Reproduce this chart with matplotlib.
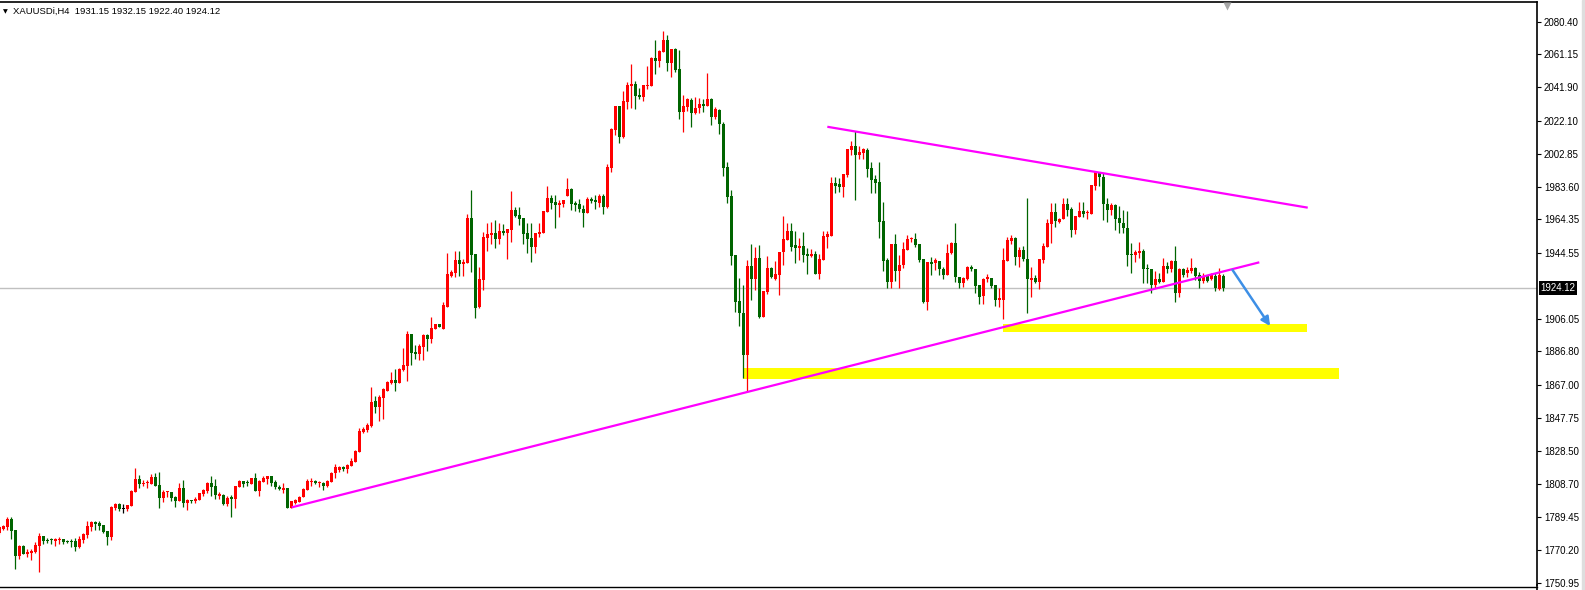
import matplotlib
matplotlib.use("Agg")
import matplotlib.pyplot as plt
import matplotlib.transforms as mtransforms
from matplotlib.lines import Line2D
import numpy as np

# XAUUSDi H4 candles (oldest -> newest)
opens = [
    1780.3, 1782.7, 1783.8, 1788.5, 1781.9, 1766.8, 1772.5, 1768.0, 1768.6, 1769.0,
    1772.7, 1778.4, 1776.2, 1776.2, 1775.6, 1775.8, 1776.6, 1775.4, 1775.4, 1775.4,
    1772.1, 1776.2, 1779.1, 1783.7, 1786.4, 1786.0, 1784.8, 1781.3, 1778.0, 1795.0,
    1797.0, 1794.5, 1794.4, 1796.2, 1804.2, 1811.8, 1809.1, 1809.3, 1809.1, 1813.0,
    1808.3, 1800.9, 1804.0, 1804.2, 1801.3, 1799.1, 1806.6, 1797.9, 1799.5, 1798.7,
    1799.7, 1803.2, 1805.0, 1809.5, 1807.7, 1802.1, 1802.6, 1797.0, 1801.1, 1800.3,
    1806.9, 1810.7, 1809.7, 1808.9, 1812.4, 1805.0, 1810.3, 1812.0, 1813.6, 1810.1,
    1806.9, 1805.6, 1806.6, 1795.0, 1797.6, 1798.5, 1801.1, 1805.4, 1810.1, 1810.7,
    1809.3, 1809.5, 1807.9, 1810.3, 1815.4, 1817.1, 1818.9, 1817.7, 1819.5, 1821.8,
    1827.9, 1839.6, 1840.8, 1843.0, 1857.9, 1854.1, 1859.4, 1863.5, 1868.0, 1870.0,
    1868.4, 1875.9, 1878.4, 1897.0, 1886.6, 1885.5, 1889.6, 1896.4, 1894.1, 1900.1,
    1902.9, 1899.7, 1913.1, 1931.3, 1933.0, 1940.5, 1938.1, 1938.7, 1965.3, 1944.2,
    1912.7, 1928.7, 1953.6, 1955.3, 1956.5, 1952.8, 1957.7, 1956.5, 1958.1, 1969.8,
    1967.1, 1965.3, 1956.5, 1953.6, 1948.3, 1955.7, 1956.3, 1968.8, 1977.1, 1974.5,
    1973.0, 1973.5, 1978.2, 1982.2, 1974.1, 1973.5, 1970.6, 1968.3, 1976.3, 1975.7,
    1974.1, 1978.0, 1971.8, 1994.7, 2017.0, 2030.9, 2012.5, 2033.4, 2042.8, 2043.8,
    2037.4, 2036.4, 2042.8, 2042.8, 2059.3, 2057.5, 2062.8, 2069.7, 2056.0, 2064.4,
    2052.6, 2027.6, 2030.1, 2034.4, 2027.0, 2029.5, 2032.1, 2031.1, 2035.0, 2024.6,
    2028.6, 2020.5, 1995.1, 1978.0, 1943.4, 1916.4, 1909.3, 1884.9, 1936.9, 1929.1,
    1941.8, 1907.2, 1921.9, 1936.0, 1929.5, 1931.6, 1945.0, 1952.2, 1957.5, 1949.3,
    1947.7, 1948.7, 1944.0, 1942.8, 1944.0, 1932.2, 1940.5, 1954.2, 1954.5, 1985.9,
    1985.1, 1983.5, 1990.4, 2005.1, 2007.4, 2002.1, 2003.1, 2005.1, 1994.3, 1988.0,
    1986.5, 1963.4, 1940.5, 1927.3, 1949.9, 1934.0, 1937.5, 1946.3, 1952.8, 1953.0,
    1949.9, 1941.0, 1916.0, 1939.3, 1938.5, 1939.7, 1935.2, 1931.6, 1944.4, 1950.6,
    1930.7, 1926.8, 1929.3, 1936.5, 1935.2, 1925.8, 1919.5, 1929.1, 1929.7, 1925.8,
    1917.0, 1917.0, 1939.9, 1951.8, 1953.6, 1942.4, 1946.3, 1941.0, 1928.7, 1929.7,
    1927.7, 1940.5, 1948.3, 1961.6, 1968.8, 1962.6, 1964.5, 1973.5, 1970.4, 1958.1,
    1965.9, 1969.2, 1967.9, 1967.5, 1984.1, 1992.3, 1989.4, 1973.1, 1969.8, 1972.8,
    1965.3, 1962.4, 1959.1, 1944.0, 1943.4, 1944.8, 1945.9, 1936.0, 1935.2, 1925.8,
    1929.3, 1927.7, 1936.9, 1935.2, 1939.9, 1920.9, 1935.0, 1932.6, 1934.0, 1936.0,
    1931.5, 1928.1, 1931.1, 1929.3, 1931.1, 1923.4, 1931.15,
]
highs = [
    1784.2, 1784.8, 1789.3, 1789.3, 1781.9, 1773.1, 1773.1, 1770.5, 1770.7, 1774.6,
    1780.1, 1778.4, 1777.4, 1777.4, 1777.4, 1777.6, 1776.6, 1776.0, 1776.6, 1777.4,
    1778.6, 1780.3, 1787.2, 1787.2, 1787.0, 1787.0, 1785.0, 1781.3, 1796.0, 1797.7,
    1797.5, 1797.2, 1796.8, 1805.4, 1818.3, 1814.2, 1811.3, 1811.3, 1815.0, 1815.4,
    1816.0, 1805.4, 1805.0, 1804.2, 1801.9, 1809.5, 1811.3, 1800.3, 1799.7, 1801.5,
    1803.6, 1806.2, 1810.3, 1813.6, 1811.8, 1804.0, 1803.0, 1801.7, 1802.4, 1807.9,
    1811.3, 1810.7, 1811.3, 1812.4, 1815.4, 1811.4, 1813.4, 1813.6, 1813.6, 1811.3,
    1808.1, 1809.5, 1806.6, 1798.9, 1800.1, 1802.1, 1806.8, 1811.8, 1812.4, 1811.5,
    1810.7, 1810.1, 1811.3, 1816.0, 1820.5, 1819.7, 1819.5, 1820.7, 1824.2, 1829.1,
    1841.6, 1842.2, 1844.5, 1865.8, 1860.8, 1861.2, 1865.1, 1869.6, 1874.7, 1876.4,
    1877.0, 1889.0, 1898.8, 1897.2, 1890.3, 1890.9, 1897.0, 1897.2, 1907.2, 1903.1,
    1903.1, 1916.0, 1944.8, 1934.8, 1945.7, 1945.7, 1941.2, 1967.7, 1981.6, 1944.2,
    1936.2, 1957.1, 1962.4, 1962.8, 1964.0, 1962.0, 1961.8, 1958.7, 1981.0, 1971.6,
    1971.4, 1965.3, 1962.2, 1962.0, 1956.5, 1962.4, 1969.2, 1984.1, 1978.8, 1978.8,
    1975.5, 1975.9, 1988.5, 1982.7, 1975.1, 1976.5, 1972.8, 1977.7, 1977.7, 1978.6,
    1979.2, 1979.2, 1997.0, 2018.2, 2030.9, 2030.9, 2039.9, 2045.2, 2055.8, 2045.4,
    2041.7, 2043.2, 2054.6, 2059.9, 2069.9, 2063.8, 2074.9, 2072.8, 2064.4, 2065.2,
    2063.8, 2037.4, 2035.8, 2035.4, 2036.0, 2035.4, 2035.2, 2050.5, 2035.6, 2030.1,
    2028.9, 2021.7, 1998.0, 1981.6, 1943.4, 1929.7, 1925.8, 1940.5, 1949.9, 1947.9,
    1949.3, 1922.4, 1942.8, 1936.5, 1939.9, 1945.4, 1966.3, 1962.4, 1962.4, 1957.5,
    1953.2, 1957.1, 1947.7, 1946.7, 1945.9, 1944.0, 1957.5, 1957.5, 1989.4, 1989.4,
    1988.4, 1991.0, 2005.4, 2010.1, 2016.0, 2007.4, 2006.2, 2006.2, 1998.0, 1990.6,
    1998.0, 1974.7, 1941.4, 1949.9, 1955.7, 1943.2, 1950.8, 1955.1, 1954.2, 1956.1,
    1949.9, 1941.0, 1939.1, 1942.4, 1941.8, 1939.7, 1936.2, 1950.0, 1951.0, 1962.0,
    1930.7, 1930.7, 1937.1, 1937.3, 1935.2, 1925.8, 1929.7, 1932.2, 1930.1, 1925.8,
    1923.8, 1947.3, 1954.2, 1955.1, 1954.2, 1948.3, 1948.9, 1976.7, 1936.5, 1931.6,
    1941.0, 1950.2, 1964.3, 1973.7, 1973.7, 1965.3, 1976.7, 1976.7, 1971.8, 1966.5,
    1974.5, 1974.7, 1969.8, 1984.5, 1992.7, 1992.3, 1991.4, 1977.1, 1973.7, 1973.1,
    1972.2, 1969.8, 1969.2, 1950.2, 1946.3, 1951.2, 1946.7, 1938.1, 1935.2, 1934.2,
    1932.6, 1941.8, 1939.5, 1940.5, 1948.7, 1935.6, 1935.6, 1936.5, 1941.4, 1936.5,
    1933.4, 1932.6, 1931.6, 1932.6, 1932.6, 1935.6, 1932.15,
]
lows = [
    1779.5, 1781.9, 1781.9, 1776.8, 1759.2, 1765.0, 1767.6, 1765.8, 1764.3, 1768.6,
    1757.4, 1773.9, 1774.4, 1773.5, 1772.7, 1773.5, 1773.5, 1774.4, 1772.1, 1769.8,
    1771.5, 1774.4, 1777.4, 1781.5, 1782.1, 1782.1, 1780.3, 1773.3, 1775.8, 1793.8,
    1793.2, 1791.7, 1792.9, 1796.2, 1804.2, 1806.8, 1807.7, 1806.4, 1809.1, 1807.7,
    1795.0, 1798.1, 1801.1, 1799.1, 1795.6, 1799.1, 1795.6, 1793.8, 1797.9, 1797.5,
    1799.7, 1802.1, 1803.8, 1802.1, 1800.3, 1800.1, 1796.6, 1796.0, 1789.7, 1795.0,
    1806.9, 1807.3, 1807.5, 1808.9, 1804.8, 1802.1, 1810.3, 1809.1, 1807.9, 1806.2,
    1805.2, 1803.6, 1795.0, 1795.0, 1797.2, 1798.5, 1801.1, 1805.4, 1807.9, 1809.1,
    1807.1, 1805.4, 1807.3, 1810.3, 1812.2, 1816.0, 1816.7, 1815.6, 1819.5, 1821.8,
    1827.9, 1838.7, 1839.6, 1842.4, 1850.6, 1846.1, 1847.1, 1863.5, 1867.4, 1863.7,
    1868.4, 1875.5, 1869.6, 1878.8, 1882.5, 1881.5, 1881.7, 1887.2, 1891.9, 1899.7,
    1900.9, 1899.7, 1913.1, 1930.7, 1930.5, 1931.1, 1931.3, 1938.7, 1933.2, 1906.6,
    1912.3, 1922.8, 1945.9, 1949.7, 1947.5, 1949.7, 1955.1, 1941.2, 1951.2, 1965.9,
    1961.2, 1949.7, 1944.8, 1939.5, 1944.8, 1954.2, 1956.1, 1968.5, 1970.4, 1959.5,
    1965.9, 1971.8, 1978.2, 1969.6, 1969.4, 1968.5, 1960.0, 1968.3, 1974.1, 1970.6,
    1971.8, 1967.3, 1971.2, 1992.3, 2014.1, 2009.4, 2012.1, 2028.9, 2029.9, 2028.9,
    2035.2, 2034.0, 2040.9, 2042.8, 2049.5, 2053.6, 2062.8, 2051.6, 2047.7, 2051.1,
    2023.1, 2015.4, 2027.8, 2018.8, 2026.0, 2027.0, 2027.6, 2031.1, 2019.5, 2023.5,
    2014.3, 1990.0, 1974.1, 1937.5, 1910.1, 1901.7, 1871.0, 1863.1, 1917.0, 1922.8,
    1906.6, 1907.2, 1920.3, 1929.7, 1928.7, 1919.9, 1937.5, 1952.2, 1945.5, 1938.9,
    1940.5, 1939.5, 1932.2, 1942.4, 1932.2, 1929.1, 1940.5, 1947.7, 1954.5, 1979.6,
    1980.6, 1977.7, 1989.4, 2001.9, 1975.7, 1999.6, 1999.6, 1989.4, 1980.0, 1980.0,
    1953.6, 1934.2, 1923.8, 1924.2, 1927.9, 1924.2, 1935.6, 1946.3, 1951.2, 1947.9,
    1939.5, 1915.0, 1911.1, 1931.6, 1934.6, 1931.6, 1929.3, 1931.6, 1944.0, 1927.3,
    1923.8, 1924.8, 1928.7, 1934.2, 1921.3, 1914.4, 1914.4, 1927.7, 1923.8, 1913.4,
    1913.1, 1905.6, 1939.9, 1949.9, 1937.5, 1936.5, 1939.9, 1909.5, 1918.9, 1926.8,
    1923.2, 1938.9, 1947.9, 1950.6, 1960.0, 1962.2, 1964.5, 1966.3, 1954.2, 1955.7,
    1965.9, 1965.9, 1964.5, 1967.3, 1981.6, 1984.1, 1963.9, 1963.0, 1966.9, 1958.1,
    1956.5, 1956.5, 1937.1, 1932.6, 1939.5, 1941.4, 1927.1, 1927.1, 1920.9, 1923.8,
    1926.8, 1927.7, 1932.6, 1933.6, 1916.0, 1918.9, 1930.7, 1930.7, 1932.6, 1928.7,
    1924.2, 1926.8, 1927.7, 1928.7, 1922.4, 1922.8, 1922.40,
]
closes = [
    1783.5, 1784.4, 1788.3, 1781.5, 1766.8, 1772.5, 1768.0, 1769.2, 1769.8, 1773.1,
    1778.4, 1775.6, 1775.6, 1775.8, 1776.4, 1776.8, 1775.0, 1775.0, 1775.0, 1772.1,
    1776.6, 1779.5, 1784.2, 1786.4, 1785.6, 1784.2, 1780.7, 1778.0, 1795.4, 1797.2,
    1794.2, 1794.5, 1796.4, 1804.8, 1811.8, 1809.1, 1809.5, 1809.7, 1813.0, 1807.9,
    1800.9, 1804.2, 1804.4, 1800.9, 1799.1, 1806.6, 1797.9, 1799.7, 1798.7, 1800.3,
    1803.6, 1805.6, 1809.5, 1807.3, 1802.4, 1802.8, 1797.4, 1800.9, 1800.3, 1807.7,
    1810.9, 1809.1, 1809.3, 1812.4, 1805.0, 1810.7, 1812.4, 1813.6, 1809.7, 1806.9,
    1805.8, 1806.8, 1795.0, 1798.9, 1799.5, 1801.5, 1806.2, 1810.7, 1810.7, 1809.3,
    1809.7, 1807.9, 1810.7, 1815.4, 1818.7, 1818.9, 1817.7, 1820.1, 1822.4, 1828.3,
    1840.0, 1841.2, 1843.6, 1857.3, 1854.1, 1860.2, 1864.5, 1869.0, 1870.0, 1868.4,
    1876.4, 1878.8, 1897.2, 1886.0, 1885.3, 1890.2, 1896.4, 1893.9, 1900.5, 1902.9,
    1901.3, 1914.2, 1932.2, 1933.4, 1940.5, 1938.1, 1939.3, 1965.3, 1943.4, 1912.5,
    1929.5, 1954.0, 1955.9, 1956.5, 1952.8, 1957.7, 1956.5, 1958.7, 1969.8, 1966.5,
    1964.7, 1955.9, 1952.8, 1948.3, 1956.5, 1957.1, 1969.2, 1977.1, 1974.1, 1973.0,
    1974.1, 1975.9, 1982.2, 1973.5, 1973.0, 1970.2, 1968.3, 1976.3, 1975.3, 1974.3,
    1978.2, 1971.8, 1995.3, 2017.6, 2030.9, 2012.9, 2033.8, 2043.2, 2043.8, 2037.0,
    2036.4, 2043.2, 2043.2, 2059.3, 2057.5, 2063.2, 2069.7, 2056.0, 2064.4, 2052.0,
    2027.6, 2030.9, 2035.2, 2027.0, 2029.9, 2032.1, 2031.1, 2035.0, 2024.6, 2028.9,
    2020.1, 1994.7, 1977.7, 1943.0, 1916.0, 1909.1, 1884.9, 1936.9, 1929.1, 1941.8,
    1907.2, 1922.4, 1936.0, 1930.3, 1932.2, 1945.4, 1952.8, 1957.5, 1948.3, 1947.7,
    1948.7, 1943.6, 1942.8, 1944.0, 1932.2, 1941.0, 1954.5, 1955.5, 1985.9, 1984.1,
    1983.5, 1991.0, 2005.4, 2007.4, 2002.1, 2003.9, 2005.4, 1993.7, 1987.4, 1985.9,
    1963.0, 1940.1, 1927.3, 1949.9, 1934.0, 1937.5, 1946.9, 1952.8, 1953.0, 1949.3,
    1940.5, 1915.6, 1939.1, 1938.1, 1940.7, 1935.2, 1931.6, 1944.4, 1950.6, 1930.3,
    1926.8, 1929.7, 1936.5, 1935.0, 1925.4, 1918.9, 1929.3, 1930.3, 1925.4, 1917.0,
    1917.9, 1940.5, 1952.2, 1953.2, 1942.4, 1946.3, 1941.0, 1929.3, 1929.7, 1927.7,
    1941.0, 1948.7, 1962.4, 1968.8, 1963.4, 1964.5, 1973.5, 1969.8, 1958.1, 1966.5,
    1969.2, 1967.5, 1968.3, 1984.5, 1992.3, 1989.0, 1973.1, 1969.8, 1972.8, 1964.5,
    1962.0, 1959.1, 1943.4, 1943.4, 1945.4, 1945.9, 1935.2, 1935.0, 1925.8, 1929.3,
    1927.7, 1936.9, 1935.2, 1939.9, 1920.9, 1935.0, 1931.6, 1934.6, 1936.0, 1931.1,
    1928.1, 1931.1, 1928.1, 1931.5, 1923.8, 1931.6, 1924.12,
]

# price scale labels shown on the right
ytick_vals = [2080.40, 2061.15, 2041.90, 2022.10, 2002.85, 1983.60, 1964.35, 1944.55,
              1906.05, 1886.80, 1867.00, 1847.75, 1828.50, 1808.70, 1789.45, 1770.20, 1750.95]
last_price = 1924.12
header = "XAUUSDi,H4  1931.15 1932.15 1922.40 1924.12"

# drawn objects (bar index, price)
lower_trend = ([73.1, 315.0], [1795.2, 1939.1])
upper_trend = ([207.0, 327.1], [2018.7, 1971.2])
zone_upper = ([251.0, 326.8], [1898.4, 1902.9])
zone_lower = ([186.0, 334.9], [1870.6, 1876.9])
arrow_from = (308.3, 1934.6)
arrow_to = (317.7, 1901.7)
shift_mark = 307.0

W, H = 1585, 590
fig = plt.figure(figsize=(W / 100, H / 100), dpi=100)
fig.patch.set_facecolor("white")
ax = fig.add_axes([0, 5 / H, 1537 / W, 583.3 / H])

o = np.array(opens)
hi = np.array(highs)
lo = np.array(lows)
c = np.array(closes)
x = np.arange(len(c))

cols = np.where(c > o, "#ff0000", np.where(c < o, "#006400", "#000000"))

# zones behind the candles
for zx, zy in (zone_upper, zone_lower):
    ax.fill_between(zx, zy[0], zy[1], color="#ffff00", lw=0, zorder=1)

ax.axhline(last_price, color="#c0c0c0", lw=1, zorder=1.5)

ax.vlines(x, lo, hi, colors=cols, lw=0.9, zorder=2)
bottom = np.minimum(o, c)
height = np.maximum(np.abs(c - o), 0.6)
ax.bar(x, height, bottom=bottom, width=0.78, color=cols, lw=0, zorder=3)

ax.plot(*lower_trend, color="#ff00ff", lw=1.6, zorder=4, solid_capstyle="butt")
ax.plot(*upper_trend, color="#ff00ff", lw=1.6, zorder=4, solid_capstyle="butt")

ax.annotate("", xy=arrow_to, xytext=arrow_from,
            arrowprops=dict(arrowstyle="-|>", color="#3d8fe6", lw=1.8,
                            mutation_scale=13, shrinkA=0, shrinkB=0),
            zorder=5)

trans = mtransforms.blended_transform_factory(ax.transData, ax.transAxes)
ax.plot([shift_mark], [0.993], marker="v", color="#a8a8a8", ms=6, mec="none",
        transform=trans, clip_on=False, zorder=6)

ax.set_xlim(0.17, 384.42)
ax.set_ylim(1749.6, 2092.15)

for s in ("left", "bottom"):
    ax.spines[s].set_visible(False)
ax.spines["top"].set_linewidth(1.2)
ax.spines["right"].set_linewidth(1.2)
ax.set_xticks([])
ax.yaxis.tick_right()
ax.set_yticks(ytick_vals)
ax.set_yticklabels([f"{v:.2f}" for v in ytick_vals])
ax.tick_params(axis="y", direction="out", length=3, width=0.8, pad=2,
               labelsize=7, colors="black")
for t in ax.get_yticklabels():
    t.set_family(["Liberation Sans", "DejaVu Sans"])

# current price tag
ptrans = mtransforms.blended_transform_factory(ax.transAxes, ax.transData)
ax.text(1.0022, last_price, str(last_price), transform=ptrans, ha="left", va="center",
        color="white", fontsize=7, family=["Liberation Sans", "DejaVu Sans"],
        bbox=dict(boxstyle="square,pad=0.18", fc="black", ec="none"), zorder=7)

# header
fig.text(3 / W, 1 - 11.7 / H, "\u25bc", fontsize=4.5, va="center", ha="left",
         family="DejaVu Sans", color="black")
fig.text(13 / W, 1 - 11.7 / H, header, fontsize=6.8, va="center", ha="left",
         family=["Liberation Sans", "DejaVu Sans"], color="black")

# bottom double frame line and right grey strip
fig.add_artist(Line2D([0, 1537 / W], [1 - 587 / H] * 2, color="black", lw=1))
fig.add_artist(Line2D([1537 / W] * 2, [0, 5 / H], color="black", lw=1.2))
fig.add_artist(plt.Rectangle((1581.5 / W, 0), 3.5 / W, 1, color="#dedede",
                             transform=fig.transFigure))

fig.savefig("out.png", dpi=100)
